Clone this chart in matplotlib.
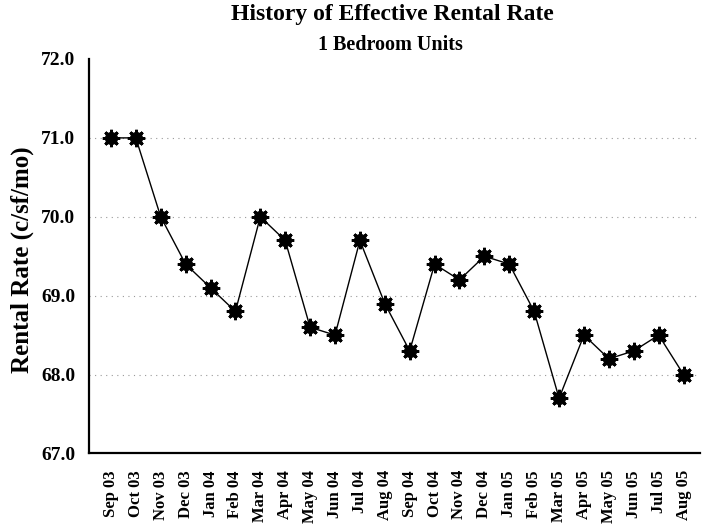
import matplotlib
matplotlib.use("Agg")
import matplotlib.pyplot as plt

months = ["Sep 03", "Oct 03", "Nov 03", "Dec 03", "Jan 04", "Feb 04", "Mar 04", "Apr 04",
          "May 04", "Jun 04", "Jul 04", "Aug 04", "Sep 04", "Oct 04", "Nov 04", "Dec 04",
          "Jan 05", "Feb 05", "Mar 05", "Apr 05", "May 05", "Jun 05", "Jul 05", "Aug 05"]
rates = [71.0, 71.0, 70.0, 69.4, 69.1, 68.8, 70.0, 69.7,
         68.6, 68.5, 69.7, 68.9, 68.3, 69.4, 69.2, 69.5,
         69.4, 68.8, 67.7, 68.5, 68.2, 68.3, 68.5, 68.0]
yticks = [67.0, 68.0, 69.0, 70.0, 71.0, 72.0]

plt.rcParams['font.family'] = ['Liberation Serif', 'DejaVu Serif']

fig = plt.figure(figsize=(7.02, 5.31), dpi=100)
ax = fig.add_axes([0.1268, 0.1460, 0.8700, 0.7429])

x = list(range(len(months)))
ax.plot(x, rates, color='black', lw=1.0, zorder=3)
ax.plot(x, rates, ls='none', marker='o', ms=8.5, color='black', zorder=4)
ax.plot(x, rates, ls='none', marker=(8, 2, 0), ms=12.5, mew=2, color='black', zorder=4)

ax.set_ylim(67.0, 72.0)
ax.set_xlim(-0.88, 23.65)
ax.set_yticks(yticks)
ax.set_yticklabels([f"{v:.1f}" for v in yticks], fontsize=14, fontweight='bold')
ax.set_xticks(x)
ax.set_xticklabels(months, rotation=90, fontsize=12, fontweight='bold')
ax.tick_params(axis='both', length=0)
ax.tick_params(axis='y', pad=10)
ax.tick_params(axis='x', pad=12)

for v in [68.0, 69.0, 70.0, 71.0]:
    ax.axhline(v, color='#999999', lw=0.8, ls=(0, (1, 4)), zorder=1)

for s in ['top', 'right']:
    ax.spines[s].set_visible(False)
ax.spines['left'].set_linewidth(1.6)
ax.spines['bottom'].set_linewidth(1.6)

fig.text(22 / 702, 0.5104, "Rental Rate (c/sf/mo)", rotation=90, ha='center', va='center',
         fontsize=18, fontweight='bold')

fig.text(0.559, 0.962, "History of Effective Rental Rate", ha='center', va='baseline',
         fontsize=17, fontweight='bold')
fig.text(0.556, 0.906, "1 Bedroom Units", ha='center', va='baseline',
         fontsize=14.5, fontweight='bold')

fig.savefig("out.png", dpi=100)
